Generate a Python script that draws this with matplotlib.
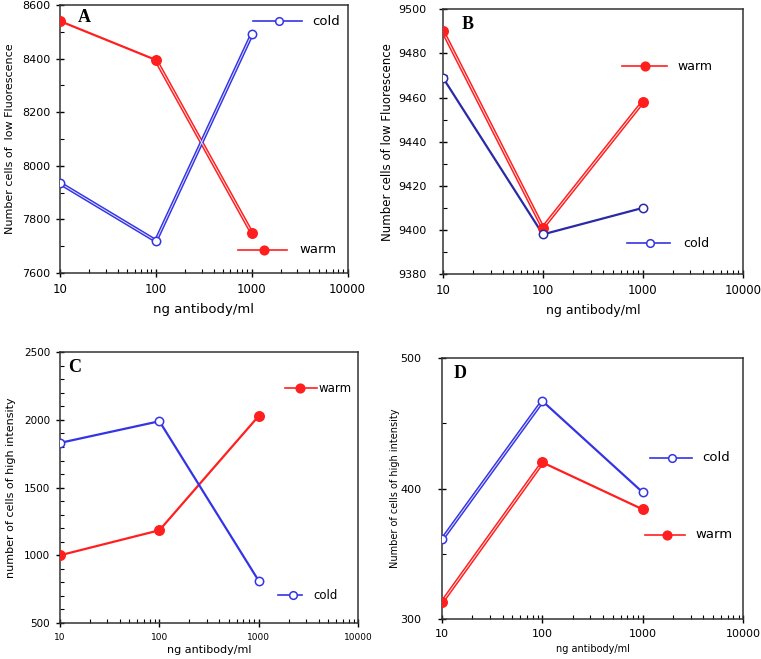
import matplotlib
matplotlib.use("Agg")
import matplotlib.pyplot as plt
from matplotlib.ticker import FixedLocator, MultipleLocator, NullFormatter

plt.rcParams["font.family"] = ["DejaVu Sans"]

dose = [10, 100, 1000]
xticks = [10, 100, 1000, 10000]
xtick_labels = ["10", "100", "1000", "10000"]

# A: low fluorescence (first set)
a_warm = [8540, 8395, 7750]
a_cold = [7935, 7720, 8490]
# B: low fluorescence (second set)
b_warm = [9490, 9401, 9458]
b_cold = [9469, 9398, 9410]
# C: high intensity (first set)
c_warm = [1000, 1185, 2030]
c_cold = [1830, 1990, 810]
# D: high intensity (second set)
d_warm = [313, 420, 384]
d_cold = [361, 467, 397]

RED = "#ff1f1f"
BLUE = "#3434e6"
BLUE_DARK = "#2a2aa6"


def style_axis(ax, ylim, major, minor, ytick_fs, xtick_fs, ypad):
    ax.set_xscale("log")
    ax.set_xlim(10, 10000)
    ax.set_ylim(*ylim)
    ax.xaxis.set_major_locator(FixedLocator(xticks))
    ax.set_xticklabels(xtick_labels)
    ax.xaxis.set_minor_formatter(NullFormatter())
    ax.yaxis.set_major_locator(MultipleLocator(major))
    ax.yaxis.set_minor_locator(MultipleLocator(minor))
    ax.tick_params(which="major", direction="inout", length=6, width=1, pad=4)
    ax.tick_params(which="minor", direction="in", length=3, width=0.8)
    ax.tick_params(axis="y", which="major", labelsize=ytick_fs, pad=ypad)
    ax.tick_params(axis="x", which="major", labelsize=xtick_fs)
    for s in ax.spines.values():
        s.set_linewidth(1.1)
        s.set_color("#333333")


def legend_entry(ax, x0, x1, xm, y, xt, label, color, filled, fs):
    ax.plot([x0, x1], [y, y], color=color, lw=1.2, transform=ax.transAxes, clip_on=False)
    ax.plot([xm], [y], marker="o", ms=6.2 if filled else 5.5, color=color,
            mfc=color if filled else "white", mec=color, mew=1.1,
            transform=ax.transAxes, clip_on=False)
    ax.text(xt, y, label, transform=ax.transAxes, ha="left", va="center", fontsize=fs)


def draw_series(ax, vals, color, filled, doubled):
    # doubled segments were drawn as twin strokes in the original figure
    for i in range(len(dose) - 1):
        xs, ys = dose[i:i + 2], vals[i:i + 2]
        if doubled[i]:
            ax.plot(xs, ys, color=color, lw=2.8, solid_capstyle="butt", zorder=2)
            ax.plot(xs, ys, color="white", lw=0.7, alpha=0.85, solid_capstyle="butt", zorder=2.1)
        else:
            ax.plot(xs, ys, color=color, lw=1.6, zorder=2)
    ax.plot(dose, vals, ls="none", marker="o", ms=6.8 if filled else 6.0,
            mfc=color if filled else "white", mec=color, mew=1.1, zorder=3)


fig = plt.figure(figsize=(7.61, 6.59), dpi=100)

# panel A
ax = fig.add_axes([0.0788, 0.5857, 0.378, 0.4067])
draw_series(ax, a_warm, RED, True, [False, True])
draw_series(ax, a_cold, BLUE, False, [True, True])
style_axis(ax, (7600, 8600), 200, 100, 8, 8.5, 4)
ax.set_xlabel("ng antibody/ml", fontsize=9.5, labelpad=5)
ax.set_ylabel("Number cells of  low Fluorescence", fontsize=8, labelpad=5)
ax.text(0.083, 0.955, "A", transform=ax.transAxes, fontsize=13, fontweight="bold",
        family="Liberation Serif", ha="center", va="center")
legend_entry(ax, 0.67, 0.84, 0.76, 0.94, 0.878, "cold", BLUE, False, 9.5)
legend_entry(ax, 0.618, 0.788, 0.708, 0.086, 0.833, "warm", RED, True, 9.5)

# panel B
ax = fig.add_axes([0.582, 0.584, 0.394, 0.402])
draw_series(ax, b_warm, RED, True, [True, True])
draw_series(ax, b_cold, BLUE_DARK, False, [False, False])
style_axis(ax, (9380, 9500), 20, 10, 8, 8.5, 9)
ax.set_xlabel("ng antibody/ml", fontsize=9, labelpad=5)
ax.set_ylabel("Number cells of low Fluorescence", fontsize=8.5, labelpad=3)
ax.text(0.083, 0.943, "B", transform=ax.transAxes, fontsize=13, fontweight="bold",
        family="Liberation Serif", ha="center", va="center")
legend_entry(ax, 0.597, 0.747, 0.673, 0.785, 0.783, "warm", RED, True, 9)
legend_entry(ax, 0.613, 0.757, 0.69, 0.117, 0.80, "cold", BLUE, False, 9)

# panel C
ax = fig.add_axes([0.0788, 0.0546, 0.392, 0.411])
draw_series(ax, c_warm, RED, True, [False, False])
draw_series(ax, c_cold, BLUE, False, [False, False])
style_axis(ax, (500, 2500), 500, 100, 7.5, 6.5, 4)
ax.set_xlabel("ng antibody/ml", fontsize=8, labelpad=2)
ax.set_ylabel("number of cells of high intensity", fontsize=8, labelpad=6)
ax.text(0.05, 0.944, "C", transform=ax.transAxes, fontsize=13, fontweight="bold",
        family="Liberation Serif", ha="center", va="center")
legend_entry(ax, 0.755, 0.862, 0.805, 0.867, 0.866, "warm", RED, True, 8.5)
legend_entry(ax, 0.73, 0.81, 0.78, 0.103, 0.85, "cold", BLUE, False, 8.5)

# panel D
ax = fig.add_axes([0.581, 0.0607, 0.3955, 0.396])
draw_series(ax, d_warm, RED, True, [True, False])
draw_series(ax, d_cold, BLUE, False, [True, False])
style_axis(ax, (300, 500), 100, 50, 8, 8, 12)
ax.set_xlabel("ng antibody/ml", fontsize=7, labelpad=4)
ax.set_ylabel("Number of cells of high intensity", fontsize=7, labelpad=0)
ax.text(0.06, 0.94, "D", transform=ax.transAxes, fontsize=13, fontweight="bold",
        family="Liberation Serif", ha="center", va="center")
legend_entry(ax, 0.69, 0.83, 0.763, 0.617, 0.864, "cold", BLUE, False, 9.5)
legend_entry(ax, 0.674, 0.807, 0.747, 0.322, 0.84, "warm", RED, True, 9.5)

fig.savefig("out.png", dpi=100)
